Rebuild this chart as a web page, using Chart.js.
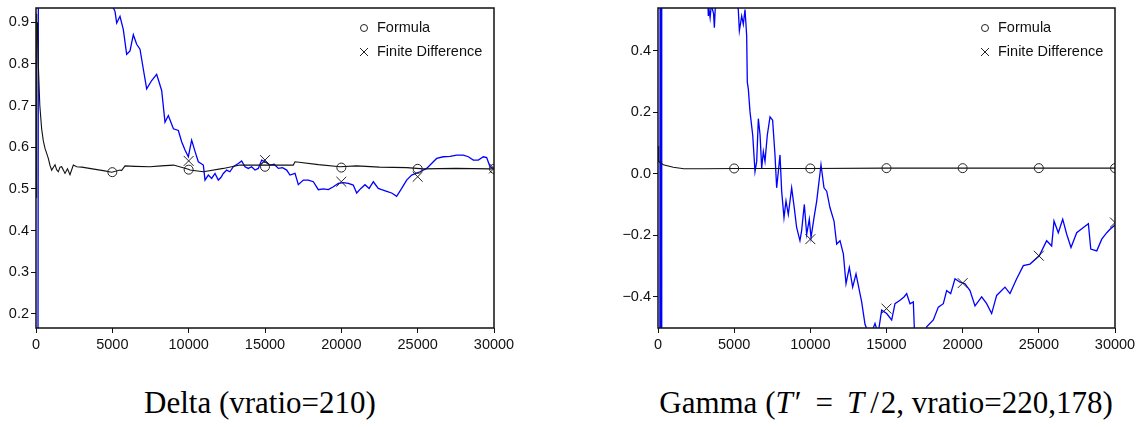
<!DOCTYPE html>
<html lang="en">
<head>
  <meta charset="UTF-8">
  <title>Delta / Gamma</title>
  <script src="https://cdn.jsdelivr.net/npm/chart.js"></script>
  <style>
    body { margin: 0; background: #fff; width: 1145px; height: 427px; position: relative; overflow: hidden; }
    canvas { position: absolute; top: 0; }
    .caption { position: absolute; top: 385px; font-family: 'Liberation Serif', 'Times New Roman', serif; font-size: 31px; line-height: 1.15; text-align: center; color: #000; white-space: nowrap; }
    .caption .eq { margin: 0 14px; }
    .caption .pr { margin-left: 2px; }
    .caption .sl { margin: 0 2px 0 6px; }
  </style>
</head>
<body>
  <canvas id="deltaChart" width="540" height="350" style="left:0px"></canvas>
  <canvas id="gammaChart" width="525" height="350" style="left:620px"></canvas>
  <div class="caption" style="left:60px; width:400px;">Delta (vratio=210)</div>
  <div class="caption" style="left:636px; width:500px;">Gamma (<i>T</i><span class="pr">′</span><span class="eq">=</span><i>T</i><span class="sl">/</span>2, vratio=220,178)</div>
  <script>
    // ---- data ----
    const xTicks = [0, 5000, 10000, 15000, 20000, 25000, 30000];
    const deltaYTicks = [0.2, 0.3, 0.4, 0.5, 0.6, 0.7, 0.8, 0.9];
    const gammaYTicks = [-0.4, -0.2, 0.0, 0.2, 0.4];
    const markerX = [5000, 10000, 15000, 20000, 25000, 30000];
    const fdMarkerX = [10000, 15000, 20000, 25000, 30000];

    // Delta, formula (black)
    const deltaFormulaX = [0, 30, 60, 100, 150, 250, 370, 480, 590, 700, 806, 920, 1028, 1140, 1245, 1350, 1463, 1570, 1681, 1790, 1900, 2060, 2227, 2445, 2664, 3000, 3500, 4000, 4500, 4959, 5502, 5600, 5830, 6500, 7467, 8200, 9000, 9983, 10087, 10967, 12270, 13362, 14891, 16852, 16966, 18500, 19913, 21004, 22500, 24279, 25371, 27500, 29738, 30000];
    const deltaFormulaY = [0.48, 0.92, 0.86, 0.90, 0.80, 0.70, 0.644, 0.615, 0.597, 0.585, 0.573, 0.556, 0.545, 0.552, 0.558, 0.546, 0.541, 0.552, 0.553, 0.545, 0.537, 0.548, 0.534, 0.557, 0.553, 0.552, 0.549, 0.546, 0.543, 0.540, 0.545, 0.544, 0.555, 0.554, 0.553, 0.555, 0.557, 0.547, 0.545, 0.541, 0.549, 0.557, 0.557, 0.557, 0.565, 0.558, 0.553, 0.555, 0.552, 0.551, 0.548, 0.549, 0.548, 0.548];
    const deltaCircleY = [0.540, 0.546, 0.553, 0.551, 0.548, 0.548];

    // Delta, finite difference (blue)
    const deltaFdX = [120, 180, 2500, 4850, 5175, 5286, 5502, 5720, 5939, 6157, 6376, 6594, 6812, 7031, 7249, 7577, 7904, 8231, 8450, 8668, 9000, 9323, 9541, 9760, 9978,
      10196, 10415, 10633, 10961, 11070, 11288, 11506, 11725, 11943, 12110, 12270, 12489, 12700, 12925, 13252, 13470, 13689, 13907, 14120, 14345, 14560, 14782, 15000, 15328, 15600, 15874, 16150, 16420, 16638, 16966, 17184, 17511, 17840, 18166, 18494, 18820, 19149, 19476, 19804, 20130, 20459, 20780, 21004, 21280, 21550, 21820, 22096, 22420, 22642, 22970, 23297, 23624, 23952, 24279, 24607, 25153, 25590, 26026, 26245, 26681, 27120, 27555, 27990, 28319, 28646, 28970, 29301, 29520, 29738, 29956];
    const deltaFdY = [-0.3, 2.0, 1.5, 0.95, 0.926, 0.898, 0.914, 0.882, 0.823, 0.831, 0.870, 0.847, 0.835, 0.787, 0.740, 0.760, 0.775, 0.736, 0.660, 0.676, 0.644, 0.640, 0.613, 0.593, 0.577,
      0.617, 0.590, 0.565, 0.557, 0.521, 0.533, 0.525, 0.537, 0.521, 0.527, 0.537, 0.545, 0.541, 0.553, 0.561, 0.567, 0.553, 0.549, 0.553, 0.545, 0.549, 0.569, 0.565, 0.557, 0.559, 0.549, 0.551, 0.545, 0.533, 0.537, 0.510, 0.521, 0.521, 0.517, 0.498, 0.500, 0.498, 0.505, 0.513, 0.515, 0.513, 0.509, 0.490, 0.501, 0.510, 0.501, 0.517, 0.501, 0.498, 0.494, 0.490, 0.482, 0.501, 0.521, 0.533, 0.541, 0.549, 0.565, 0.573, 0.577, 0.578, 0.581, 0.581, 0.577, 0.569, 0.569, 0.577, 0.575, 0.553, 0.549];
    const deltaCrossY = [0.567, 0.569, 0.517, 0.529, 0.549];

    // Gamma, formula (black)
    const gammaFormulaX = [0, 30, 60, 350, 1000, 1700, 3000, 5000, 10000, 15000, 20000, 25000, 30000];
    const gammaFormulaY = [0.04, 0.09, 0.04, 0.029, 0.021, 0.016, 0.016, 0.017, 0.017, 0.018, 0.018, 0.018, 0.018];
    const gammaCircleY = [0.017, 0.017, 0.018, 0.018, 0.018, 0.018];

    // Gamma, finite difference (blue)
    const gammaFdX = [120, 145, 215, 245, 1500, 3250, 3303, 3350, 3420, 3500, 3650, 3700, 3760, 3900, 4800, 5270, 5342, 5494, 5600, 5712, 5822, 5862, 5929, 6040, 6217, 6368, 6480, 6587, 6700, 6807, 6915, 7024, 7176, 7354, 7525, 7680, 7790, 7900, 8009, 8118, 8271, 8403, 8555, 8774, 8946, 9100, 9318, 9427, 9606, 9760, 9933, 10045, 10242, 10418, 10700, 10897, 11074, 11291, 11554, 11729, 11948, 12167, 12343, 12560, 12779, 12999, 13260, 13370, 13589, 13917, 14245, 14450, 14683, 15011, 15339, 15558, 15886, 16149, 16324, 16543, 16761, 16871, 17300, 17637, 18074, 18402, 18731, 18949, 19212, 19496, 19824, 20153, 20481, 20810, 21247, 21575, 21903, 22231, 22779, 23107, 23545, 23982, 24420, 25030, 25514, 25842, 25996, 26278, 26568, 26830, 27112, 27486, 27924, 28252, 28409, 28803, 29131, 29460, 29672, 30000];
    const gammaFdY = [-0.8, 1.2, -0.7, 1.3, 1.0, 0.6, 0.513, 0.534, 0.507, 0.55, 0.52, 0.475, 0.54, 0.60, 0.65, 0.534, 0.465, 0.513, 0.486, 0.534, 0.448, 0.298, 0.276, 0.201, 0.126, 0.007, 0.040, 0.179, 0.126, 0.018, 0.072, 0.040, 0.126, 0.185, 0.174, 0.061, -0.046, 0.007, 0.061, -0.057, -0.143, -0.089, -0.132, -0.046, -0.111, -0.175, -0.218, -0.186, -0.100, -0.197, -0.148, -0.208, -0.143, -0.089, 0.029, -0.046, -0.057, -0.111, -0.154, -0.229, -0.218, -0.261, -0.358, -0.305, -0.369, -0.326, -0.390, -0.417, -0.490, -0.53, -0.487, -0.52, -0.444, -0.455, -0.476, -0.423, -0.412, -0.401, -0.390, -0.423, -0.417, -0.56, -0.62, -0.498, -0.476, -0.434, -0.423, -0.380, -0.390, -0.342, -0.353, -0.358, -0.380, -0.430, -0.401, -0.423, -0.455, -0.396, -0.369, -0.390, -0.342, -0.299, -0.294, -0.267, -0.218, -0.235, -0.154, -0.192, -0.148, -0.197, -0.240, -0.192, -0.175, -0.163, -0.245, -0.251, -0.213, -0.192, -0.181, -0.167];
    const gammaCrossY = [-0.213, -0.439, -0.356, -0.267, -0.159];

    const legendLabels = ['Formula', 'Finite Difference'];

    const toPoints = (xs, ys) => xs.map((x, i) => ({ x: x, y: ys[i] }));
    const fmtMinus = (v) => v.toFixed(1).replace('-', '\u2212');
    const sansFamily = '"Liberation Sans", Arial, sans-serif';

    // frame round the plot area + small legend in the top right
    const framePlugin = {
      id: 'frameAndLegend',
      afterDraw(chart) {
        const { ctx, chartArea } = chart;
        const { left, top, right, bottom } = chartArea;
        ctx.save();
        ctx.strokeStyle = '#111';
        ctx.lineWidth = 1.5;
        ctx.strokeRect(left, top, right - left, bottom - top);

        // legend
        const mx = right - 130, tx = right - 117;
        ctx.lineWidth = 1;
        ctx.strokeStyle = '#222';
        ctx.beginPath();
        ctx.arc(mx, top + 20, 3.5, 0, Math.PI * 2);
        ctx.stroke();
        ctx.beginPath();
        ctx.moveTo(mx - 4, top + 40); ctx.lineTo(mx + 4, top + 48);
        ctx.moveTo(mx + 4, top + 40); ctx.lineTo(mx - 4, top + 48);
        ctx.stroke();
        ctx.fillStyle = '#111';
        ctx.font = '14.5px ' + sansFamily;
        ctx.textBaseline = 'middle';
        ctx.fillText(legendLabels[0], tx, top + 20);
        ctx.fillText(legendLabels[1], tx, top + 44);
        ctx.restore();
      },
    };

    const makeChart = (id, opts) => {
      const tickFont = { family: sansFamily, size: 14.5 };
      return new Chart(document.getElementById(id), {
        type: 'scatter',
        data: {
          datasets: [
            { data: opts.fd, showLine: true, borderColor: '#0000ff', borderWidth: 1.3, pointRadius: 0, order: 3 },
            { data: opts.formula, showLine: true, borderColor: '#111', borderWidth: 1.1, pointRadius: 0, order: 2 },
            { data: opts.circles, pointStyle: 'circle', pointRadius: 4.5, borderColor: '#222', borderWidth: 1, backgroundColor: 'rgba(0,0,0,0)', order: 1 },
            { data: opts.crosses, pointStyle: 'crossRot', pointRadius: 7, borderColor: '#222', borderWidth: 1, order: 1 },
          ],
        },
        options: {
          responsive: false,
          animation: false,
          events: [],
          layout: { padding: { top: 5, right: opts.padRight, left: 0, bottom: 0 } },
          plugins: { legend: { display: false }, tooltip: { enabled: false } },
          scales: {
            x: {
              type: 'linear',
              min: 0,
              max: 30000,
              afterBuildTicks: (s) => { s.ticks = xTicks.map(v => ({ value: v })); },
              afterFit: (s) => { s.height = 22; s.paddingLeft = 0; s.paddingRight = 0; },
              ticks: { font: tickFont, color: '#111', padding: 3, maxRotation: 0, autoSkip: false, callback: (v) => String(v) },
              grid: { drawOnChartArea: false, drawTicks: true, tickLength: 5, color: '#111', lineWidth: 1 },
              border: { display: false },
            },
            y: {
              type: 'linear',
              min: opts.yMin,
              max: opts.yMax,
              afterBuildTicks: (s) => { s.ticks = opts.yTicks.map(v => ({ value: v })); },
              afterFit: (s) => { s.width = opts.yWidth; s.paddingTop = 0; s.paddingBottom = 0; },
              ticks: { font: tickFont, color: '#111', padding: 2, autoSkip: false, callback: (v) => fmtMinus(v) },
              grid: { drawOnChartArea: false, drawTicks: true, tickLength: 5, color: '#111', lineWidth: 1 },
              border: { display: false },
            },
          },
        },
        plugins: [framePlugin],
      });
    };

    makeChart('deltaChart', {
      fd: toPoints(deltaFdX, deltaFdY),
      formula: toPoints(deltaFormulaX, deltaFormulaY),
      circles: toPoints(markerX, deltaCircleY),
      crosses: toPoints(fdMarkerX, deltaCrossY),
      yMin: 0.166, yMax: 0.934, yTicks: deltaYTicks, yWidth: 36, padRight: 46,
    });

    makeChart('gammaChart', {
      fd: toPoints(gammaFdX, gammaFdY),
      formula: toPoints(gammaFormulaX, gammaFormulaY),
      circles: toPoints(markerX, gammaCircleY),
      crosses: toPoints(fdMarkerX, gammaCrossY),
      yMin: -0.502, yMax: 0.539, yTicks: gammaYTicks, yWidth: 38, padRight: 30,
    });
  </script>
</body>
</html>
